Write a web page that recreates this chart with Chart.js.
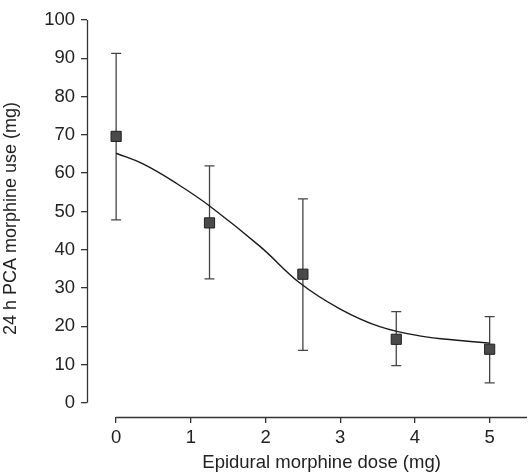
<!DOCTYPE html>
<html>
<head>
<meta charset="utf-8">
<script src="https://cdn.jsdelivr.net/npm/chart.js@4/dist/chart.umd.min.js"></script>
<style>
  html, body { margin: 0; padding: 0; background: #fff; }
  #wrap { width: 529px; height: 475px; }
</style>
</head>
<body>
<div id="wrap"><canvas id="c" width="529" height="475"></canvas></div>
<script>
// ---- data ----
const doses = [0, 1.25, 2.5, 3.75, 5];
const meanUse = [69.6, 47.0, 33.6, 16.6, 14.0];
const upperErr = [91.3, 61.9, 53.3, 23.8, 22.5];
const lowerErr = [47.8, 32.4, 13.7, 9.7, 5.2];

const fitX = [0, 0.36, 0.81, 1.26, 1.93, 2.46, 3.0, 3.53, 4.06, 4.64, 5];
const fitY = [65.2, 62.4, 57.3, 51.3, 40.8, 31.3, 24.5, 19.9, 17.5, 16.2, 15.6];

const xTicks = [0, 1, 2, 3, 4, 5];
const yTicks = [0, 10, 20, 30, 40, 50, 60, 70, 80, 90, 100];

const xTitle = 'Epidural morphine dose (mg)';
const yTitle = '24 h PCA morphine use (mg)';

const FONT = "'Liberation Sans', Arial, Helvetica, sans-serif";
const FS = 18.5;
const TXT = '#222';
const AXIS = '#333';

const errorBars = {
  id: 'errorBars',
  beforeDatasetsDraw(chart) {
    const { ctx, scales: { x, y } } = chart;
    ctx.save();
    ctx.strokeStyle = '#444';
    ctx.lineWidth = 1.3;
    doses.forEach((d, i) => {
      const px = x.getPixelForValue(d);
      const top = y.getPixelForValue(upperErr[i]);
      const bot = y.getPixelForValue(lowerErr[i]);
      ctx.beginPath();
      ctx.moveTo(px, top); ctx.lineTo(px, bot);
      ctx.moveTo(px - 5, top); ctx.lineTo(px + 5, top);
      ctx.moveTo(px - 5, bot); ctx.lineTo(px + 5, bot);
      ctx.stroke();
    });
    ctx.restore();
  }
};

const axisLines = {
  id: 'axisLines',
  afterDraw(chart) {
    const { ctx, chartArea, scales: { x, y } } = chart;
    ctx.save();
    ctx.strokeStyle = AXIS;
    ctx.lineWidth = 1.3;
    ctx.beginPath();
    const lx = Math.round(chartArea.left) + 0.5;
    ctx.moveTo(lx, y.getPixelForValue(yTicks[0]));
    ctx.lineTo(lx, y.getPixelForValue(yTicks[yTicks.length - 1]));
    const x0 = x.getPixelForValue(xTicks[0]);
    const by = Math.round(chartArea.bottom) + 0.5;
    ctx.moveTo(x0, by);
    ctx.lineTo(chartArea.right, by);
    ctx.stroke();
    // x axis title, centred under the drawn axis line
    ctx.fillStyle = TXT;
    ctx.font = FS + 'px ' + FONT;
    ctx.textAlign = 'center';
    ctx.textBaseline = 'alphabetic';
    ctx.fillText(xTitle, (x0 + chartArea.right) / 2, chartArea.bottom + 51);
    ctx.restore();
  }
};

new Chart(document.getElementById('c'), {
  type: 'scatter',
  data: {
    datasets: [
      {
        type: 'line',
        data: fitX.map((v, i) => ({ x: v, y: fitY[i] })),
        borderColor: '#1a1a1a',
        borderWidth: 1.4,
        pointRadius: 0,
        fill: false,
        tension: 0.4
      },
      {
        data: doses.map((v, i) => ({ x: v, y: meanUse[i] })),
        pointStyle: 'rect',
        pointRadius: 7.2,
        pointHoverRadius: 7.2,
        backgroundColor: '#4a4a4a',
        borderColor: '#222',
        borderWidth: 1
      }
    ]
  },
  options: {
    responsive: false,
    animation: false,
    events: [],
    layout: { autoPadding: false, padding: { top: 20, right: 2, left: 0, bottom: 0 } },
    plugins: { legend: { display: false }, tooltip: { enabled: false } },
    scales: {
      x: {
        type: 'linear',
        min: -0.39,
        max: 5.5,
        afterBuildTicks: s => { s.ticks = xTicks.map(v => ({ value: v })); },
        afterFit: s => { s.height = 58; s.paddingLeft = 0; s.paddingRight = 0; },
        grid: { drawOnChartArea: false, drawTicks: true, tickLength: 6, color: AXIS, lineWidth: 1.3 },
        border: { display: false },
        ticks: { color: TXT, font: { family: FONT, size: FS }, padding: 4, maxRotation: 0 },
        title: { display: false }
      },
      y: {
        type: 'linear',
        min: -3.7,
        max: 100,
        afterBuildTicks: s => { s.ticks = yTicks.map(v => ({ value: v })); },
        afterFit: s => { s.width = 87; },
        grid: { drawOnChartArea: false, drawTicks: true, tickLength: 6, color: AXIS, lineWidth: 1.3 },
        border: { display: false },
        ticks: { color: TXT, font: { family: FONT, size: FS }, padding: 6 },
        title: { display: true, text: yTitle, color: TXT, font: { family: FONT, size: 18 }, padding: { top: 0, bottom: 4 } }
      }
    }
  },
  plugins: [errorBars, axisLines]
});
</script>
</body>
</html>
